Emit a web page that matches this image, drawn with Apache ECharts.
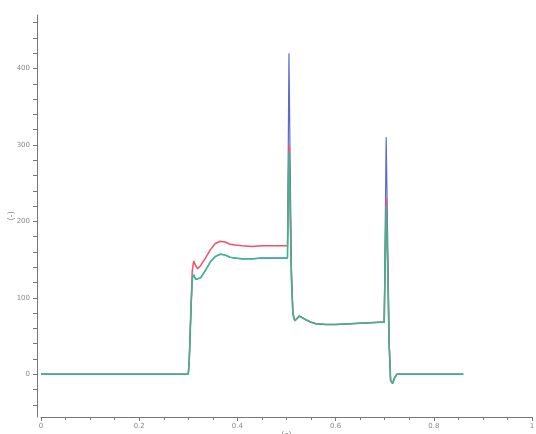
<!DOCTYPE html>
<html><head><meta charset="utf-8">
<script src="https://cdn.jsdelivr.net/npm/echarts@6/dist/echarts.min.js"></script>
<style>html,body{margin:0;padding:0;background:#fff}#c{width:536px;height:434px}</style>
</head><body><div id="c"></div>
<script>
var xs = [0, 0.3, 0.302, 0.305, 0.308, 0.311, 0.315, 0.319, 0.325, 0.335, 0.345, 0.355, 0.365, 0.375, 0.385, 0.395, 0.41, 0.43, 0.45, 0.47, 0.49, 0.502, 0.505, 0.507, 0.51, 0.513, 0.517, 0.521, 0.526, 0.532, 0.54, 0.55, 0.56, 0.58, 0.6, 0.63, 0.66, 0.69, 0.699, 0.703, 0.706, 0.709, 0.712, 0.716, 0.72, 0.725, 0.73, 0.86];
var redVals = [0, 0, 20, 80, 135, 148, 142, 138, 142, 152, 163, 171, 174, 173, 170, 169, 168, 167, 168, 168, 168, 168, 300, 240, 130, 80, 70, 72, 76, 74, 71, 68, 66, 65, 65, 66, 67, 68, 68, 230, 150, 40, -8, -12, -5, 0, 0, 0];
var greenVals = [0, 0, 18, 75, 125, 130, 124, 122, 126, 136, 147, 154, 157, 156, 153, 152, 151, 151, 152, 152, 152, 152, 290, 230, 125, 78, 70, 72, 76, 74, 71, 68, 66, 65, 65, 66, 67, 68, 68, 220, 140, 38, -8, -12, -5, 0, 0, 0];
var blueVals = [0, 0, 18, 75, 125, 130, 124, 122, 126, 136, 147, 154, 157, 156, 153, 152, 151, 151, 152, 152, 152, 152, 420, 300, 140, 80, 70, 72, 76, 74, 71, 68, 66, 65, 65, 66, 67, 68, 68, 310, 180, 45, -8, -12, -5, 0, 0, 0];
var xLabels = [0, 0.2, 0.4, 0.6, 0.8, 1];
var yLabels = [0, 100, 200, 300, 400];
var yTicks = [-40, -20, 0, 20, 40, 60, 80, 100, 120, 140, 160, 180, 200, 220, 240, 260, 280, 300, 320, 340, 360, 380, 400, 420, 440, 460];

function pairs(v){ return xs.map(function(x,i){ return [x, v[i]]; }); }
var chart = echarts.init(document.getElementById('c'), null, {renderer:'canvas'});
var axisCol = '#777';
chart.setOption({
  animation:false,
  backgroundColor:'#fff',
  grid:{left:41,right:4,top:15,bottom:17,containLabel:false,outerBoundsMode:'none'},
  xAxis:{type:'value',min:0,max:1,interval:0.2,
    name:'(s)',nameLocation:'middle',nameGap:15,nameMoveOverlap:false,nameTextStyle:{color:'#888',fontSize:8,fontFamily:'DejaVu Sans'},
    axisLine:{show:true,onZero:false,lineStyle:{color:axisCol,width:1}},
    axisTick:{show:true,length:4,lineStyle:{color:axisCol}},
    minorTick:{show:true,splitNumber:4,length:3,lineStyle:{color:axisCol}},
    axisLabel:{color:'#888',fontSize:7,fontFamily:'DejaVu Sans',margin:6,customValues:xLabels,formatter:function(v){return String(v);}},
    splitLine:{show:false}},
  yAxis:{type:'value',min:-56,max:470,offset:4,
    name:'(-)',nameLocation:'middle',nameGap:21,nameRotate:90,nameMoveOverlap:false,nameTextStyle:{color:'#888',fontSize:8,fontFamily:'DejaVu Sans'},
    axisLine:{show:true,onZero:false,lineStyle:{color:axisCol,width:1}},
    axisTick:{show:true,length:4,customValues:yTicks,lineStyle:{color:axisCol}},
    axisLabel:{color:'#888',fontSize:7,fontFamily:'DejaVu Sans',margin:7,customValues:yLabels},
    splitLine:{show:false}},
  series:[
    {type:'line',data:pairs(blueVals),showSymbol:false,color:'#5a6ad0',lineStyle:{color:'#5a6ad0',width:1.2},z:1},
    {type:'line',data:pairs(redVals),showSymbol:false,color:'#f4506a',lineStyle:{color:'#f4506a',width:1.5},z:2},
    {type:'line',data:pairs(greenVals),showSymbol:false,color:'#38b88c',lineStyle:{color:'#38b88c',width:1.5},z:3}
  ]
});
</script></body></html>
